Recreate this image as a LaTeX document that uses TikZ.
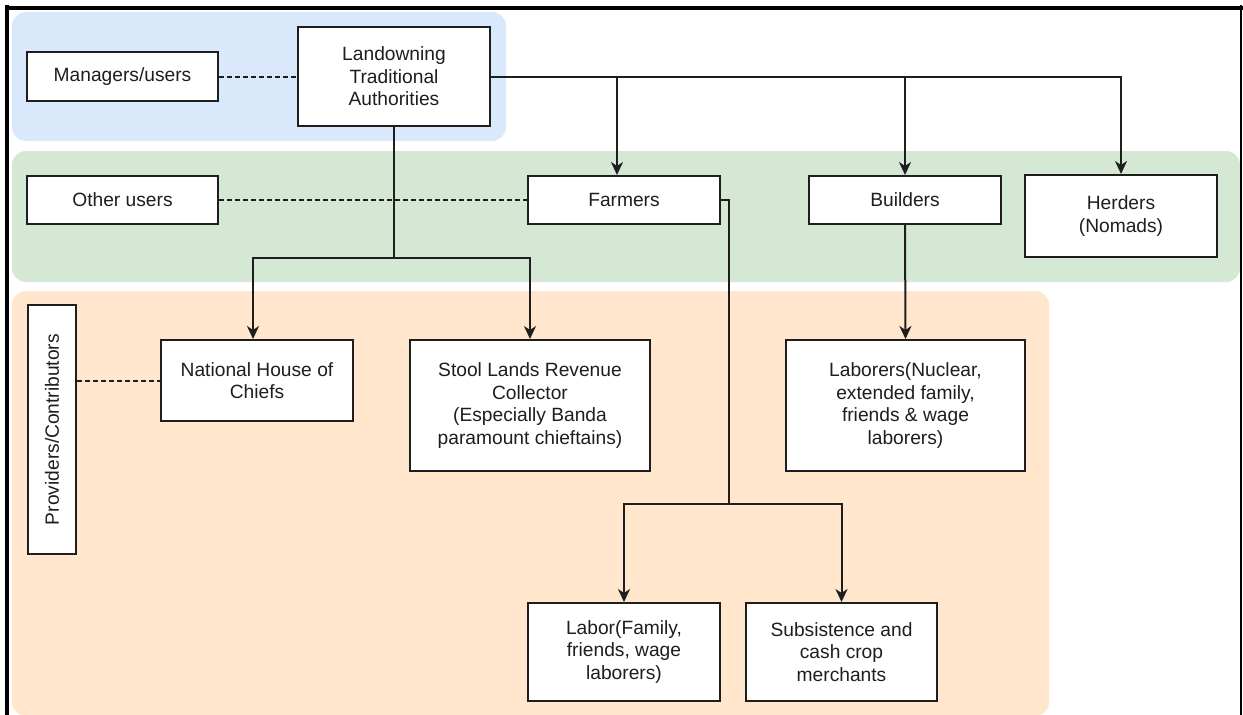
\documentclass[tikz,border=0pt]{standalone}
\usepackage{fontspec}
\setmainfont{Liberation Sans}
\usetikzlibrary{arrows.meta,positioning}
\definecolor{zoneblue}{HTML}{DAE8FC}
\definecolor{zonegreen}{HTML}{D5E8D4}
\definecolor{zoneorange}{HTML}{FFE6CC}
\definecolor{ink}{HTML}{1E1E1E}
\tikzset{
  zone/.style={rounded corners=14pt, draw=none},
  box/.style={draw=ink, fill=white, line width=2pt, align=center,
    inner sep=0pt, text=ink, font=\fontsize{19.2}{22.5}\selectfont},
  link/.style={draw=ink, line width=2pt},
  flow/.style={link, -{Stealth[length=13pt,width=12pt,inset=4pt]}},
  assoc/.style={draw=ink, line width=2pt, dash pattern=on 5pt off 3pt},
}
\begin{document}
\begin{tikzpicture}[x=1pt,y=-1pt]
\useasboundingbox (0,0) rectangle (1243,715);
\fill[white] (0,0) rectangle (1243,715);

% coloured bands
\fill[zone, zoneblue] (12,12) rectangle (506,141);
\fill[zone, zonegreen] (12,151) rectangle (1240,282);
\fill[zone, zoneorange] (12,291) rectangle (1049,716);

% outer frame
\draw[black, line width=4pt] (5,7.5) -- (1243,7.5);
\draw[black, line width=4pt] (7,5) -- (7,715);
\draw[black, line width=1.5pt] (1241,5) -- (1241,715);

% boxes
\node[box, minimum width=191pt, minimum height=49pt] (mgr) at (122.5,76.5) {Managers/users};
\node[box, minimum width=192pt, minimum height=99pt] (land) at (394,76.5) {Landowning\\Traditional\\Authorities};
\node[box, minimum width=191pt, minimum height=48pt] (other) at (122.5,200) {Other users};
\node[box, minimum width=192pt, minimum height=48pt] (farm) at (624,200) {Farmers};
\node[box, minimum width=192pt, minimum height=48pt] (build) at (905,200) {Builders};
\node[box, minimum width=192pt, minimum height=82pt] (herd) at (1121,216) {Herders\\(Nomads)};
\node[box, minimum width=249pt, minimum height=48pt, rotate=90] (prov) at (52,429.5) {Providers/Contributors};
\node[box, minimum width=192pt, minimum height=81pt] (nhc) at (257,380.5) {National House of\\Chiefs};
\node[box, minimum width=240pt, minimum height=131pt] (stool) at (530,405.5) {Stool Lands Revenue\\Collector\\(Especially Banda\\paramount chieftains)};
\node[box, minimum width=239pt, minimum height=131pt] (labr) at (905.5,405.5) {Laborers(Nuclear,\\extended family,\\friends \& wage\\laborers)};
\node[box, minimum width=192pt, minimum height=98pt] (labor) at (624,652) {Labor(Family,\\friends, wage\\laborers)};
\node[box, minimum width=191pt, minimum height=98pt] (subs) at (841.5,652) {Subsistence and\\cash crop\\merchants};

% dashed associations
\draw[assoc] (mgr.east) -- (land.west);
\draw[assoc] (other.east) -- (farm.west);
\draw[assoc] (prov.south |- nhc.west) -- (nhc.west);

% authorities to land users
\draw[flow] (land.east) -| (herd.north);
\draw[flow] (land.east -| build.north) -- (build.north);
\draw[flow] ([xshift=-7pt]land.east -| farm.north) -- ([xshift=-7pt]farm.north);

% authorities to providers
\coordinate (split) at ([yshift=-131pt]land.south);
\draw[link] (land.south) -- (split);
\draw[flow] (split) -| ([xshift=-4pt]nhc.north);
\draw[flow] (split) -| (stool.north);

% builders to laborers
\draw[flow] (build.south) -- (labr.north);

% farmers to labor and merchants
\coordinate (fturn) at ([xshift=8pt]farm.east);
\coordinate (fsplit) at ([yshift=-304pt]fturn);
\draw[link] (farm.east) -- (fturn) -- (fsplit);
\draw[flow] (fsplit) -| (labor.north);
\draw[flow] (fsplit) -| (subs.north);
\end{tikzpicture}
\end{document}
